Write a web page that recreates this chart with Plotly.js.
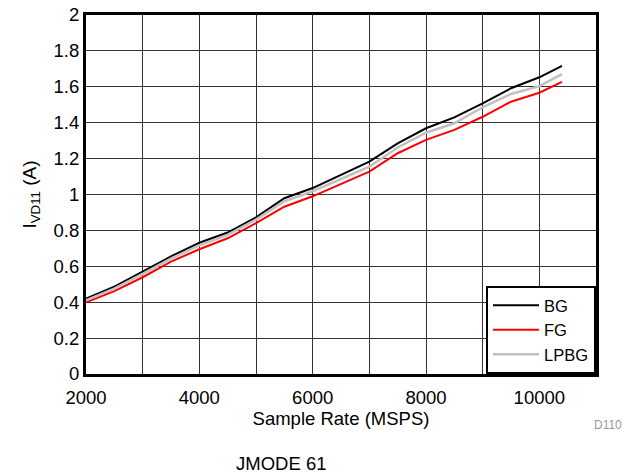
<!DOCTYPE html>
<html>
<head>
<meta charset="utf-8">
<script src="https://cdn.plot.ly/plotly-3.0.1.min.js"></script>
<style>html,body{margin:0;padding:0;background:#fff;}#chart{width:636px;height:475px;}</style>
</head>
<body>
<div id="chart"></div>
<script>
const sampleRate = [2000, 2500, 3000, 3500, 4000, 4500, 5000, 5500, 6000, 6500, 7000, 7500, 8000, 8500, 9000, 9500, 10000, 10400];
const bg   = [0.42, 0.487, 0.57, 0.655, 0.731, 0.788, 0.873, 0.979, 1.036, 1.11, 1.183, 1.285, 1.369, 1.43, 1.508, 1.592, 1.653, 1.716];
const fg   = [0.40, 0.462, 0.539, 0.626, 0.695, 0.756, 0.84, 0.932, 0.99, 1.058, 1.127, 1.23, 1.304, 1.36, 1.433, 1.517, 1.567, 1.627];
const lpbg = [0.41, 0.476, 0.558, 0.643, 0.717, 0.775, 0.86, 0.962, 1.018, 1.088, 1.155, 1.262, 1.344, 1.397, 1.486, 1.56, 1.604, 1.671];
const xTickVals = [2000, 4000, 6000, 8000, 10000];
const xTickText = ['2000', '4000', '6000', '8000', '10000'];
const xMinorGrid = [3000, 5000, 7000, 9000, 11000];
const yTickVals = [0, 0.2, 0.4, 0.6, 0.8, 1, 1.2, 1.4, 1.6, 1.8, 2];
const yTickText = ['0', '0.2', '0.4', '0.6', '0.8', '1', '1.2', '1.4', '1.6', '1.8', '2'];

const font = {family: 'Liberation Sans, Arial, sans-serif', color: '#000'};
const fs = 18.5;
const traces = [
  {x: sampleRate, y: bg, name: 'BG', mode: 'lines', line: {color: '#000000', width: 2}},
  {x: sampleRate, y: fg, name: 'FG', mode: 'lines', line: {color: '#ff0000', width: 2}},
  {x: sampleRate, y: lpbg, name: 'LPBG', mode: 'lines', line: {color: '#c0c0c0', width: 2.5}}
];
const layout = {
  width: 636, height: 475,
  margin: {l: 86, r: 40, t: 15, b: 101},
  paper_bgcolor: '#fff', plot_bgcolor: '#fff',
  font: Object.assign({size: fs}, font),
  showlegend: true,
  legend: {x: 1, y: 0, xanchor: 'right', yanchor: 'bottom', bgcolor: '#fff', bordercolor: '#000', borderwidth: 2,
           font: Object.assign({size: 16.5}, font), tracegroupgap: 0, itemwidth: 46},
  xaxis: {range: [2000, 11000], tickvals: xTickVals, ticktext: xTickText, ticks: '', showgrid: true,
          gridcolor: '#333', gridwidth: 1, showline: true, linecolor: '#000', linewidth: 3, mirror: true,
          minor: {tickvals: xMinorGrid, showgrid: true, gridcolor: '#333', gridwidth: 1, ticks: ''},
          zeroline: false, tickfont: Object.assign({size: fs}, font), ticklabelstandoff: 5,
          title: {text: 'Sample Rate (MSPS)', font: Object.assign({size: fs}, font), standoff: 5}},
  yaxis: {range: [0, 2], tickvals: yTickVals, ticktext: yTickText, ticks: '', showgrid: true,
          gridcolor: '#333', gridwidth: 1, showline: true, linecolor: '#000', linewidth: 3, mirror: true,
          zeroline: false, tickfont: Object.assign({size: fs}, font),
          title: {text: 'I<sub>VD11</sub> (A)', font: Object.assign({size: 19}, font), standoff: 12}},
  annotations: [
    {text: 'D110', xref: 'paper', yref: 'paper', x: 1.0235, y: -0.142, xanchor: 'center', yanchor: 'middle',
     showarrow: false, font: Object.assign({}, font, {size: 12, color: '#999'})},
    {text: 'JMODE 61', xref: 'paper', yref: 'paper', x: 0.382, y: -0.248, xanchor: 'center', yanchor: 'middle',
     showarrow: false, font: Object.assign({size: fs}, font)}
  ]
};
Plotly.newPlot('chart', traces, layout, {displayModeBar: false, staticPlot: true});
</script>
</body>
</html>
